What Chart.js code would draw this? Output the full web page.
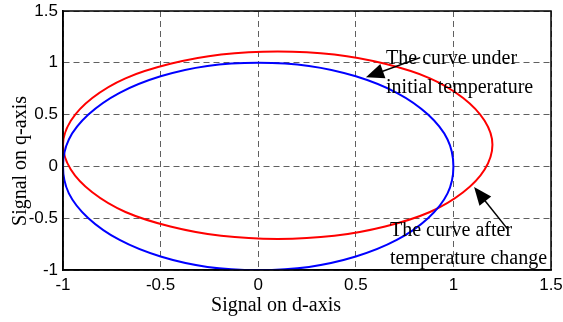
<!DOCTYPE html>
<html>
<head>
<meta charset="utf-8">
<script src="https://cdn.jsdelivr.net/npm/chart.js@4.4.1/dist/chart.umd.min.js"></script>
<style>
  html, body { margin:0; padding:0; background:#fff; }
  #wrap { width:563px; height:322px; position:relative; }
</style>
</head>
<body>
<div id="wrap"><canvas id="c" width="563" height="322"></canvas></div>
<script>
// curve under initial temperature (blue); closed loop
const blueX = [1.00, 0.97, 0.87, 0.71, 0.50, 0.26, 0.00, -0.26, -0.50, -0.71, -0.87, -0.97, -1.00, -0.97, -0.87, -0.71, -0.50, -0.26, 0.00, 0.26, 0.50, 0.71, 0.87, 0.97];
const blueY = [0.00, 0.26, 0.50, 0.71, 0.87, 0.97, 1.00, 0.97, 0.87, 0.71, 0.50, 0.26, 0.00, -0.26, -0.50, -0.71, -0.87, -0.97, -1.00, -0.97, -0.87, -0.71, -0.50, -0.26];
// curve after temperature change (red); closed loop
const redX = [1.20, 1.16, 1.05, 0.88, 0.65, 0.39, 0.10, -0.19, -0.45, -0.68, -0.85, -0.96, -1.00, -0.96, -0.85, -0.68, -0.45, -0.19, 0.10, 0.39, 0.65, 0.88, 1.05, 1.16];
const redY = [0.21, 0.44, 0.66, 0.85, 0.99, 1.08, 1.11, 1.08, 0.99, 0.85, 0.66, 0.44, 0.21, -0.03, -0.25, -0.44, -0.58, -0.67, -0.70, -0.67, -0.58, -0.44, -0.25, -0.03];
const xTicks = [-1, -0.5, 0, 0.5, 1, 1.5];
const yTicks = [-1, -0.5, 0, 0.5, 1, 1.5];
const xTitle = 'Signal on d-axis';
const yTitle = 'Signal on q-axis';
const notes = [
  { lines:['The curve under', 'initial temperature'], x:0.655, y:[1.04, 0.76], from:[0.83, 1.05], to:[0.552, 0.86] },
  { lines:['The curve after', 'temperature change'], x:0.675, y:[-0.625, -0.89], from:[1.28, -0.61], to:[1.106, -0.20] }
];

const pts = (xs, ys) => xs.map((x, i) => ({ x, y: ys[i] }));
const serif = '"Liberation Serif", "Times New Roman", serif';

// make the scatter lines closed, smooth loops (like the radar controller does)
const loopPlugin = {
  id: 'loop',
  afterDatasetsUpdate(chart) {
    chart.getSortedVisibleDatasetMetas().forEach(m => {
      if (m.dataset) { m.dataset._loop = true; m.dataset._fullLoop = true; m.dataset._pointsUpdated = false; m.dataset._path = undefined; }
    });
  }
};

const notePlugin = {
  id: 'notes',
  afterDatasetsDraw(chart) {
    const { ctx, scales: { x, y } } = chart;
    const a = chart.chartArea;
    ctx.save();
    ctx.fillStyle = '#000';
    ctx.strokeStyle = '#000';
    // frame
    ctx.lineWidth = 1.5;
    ctx.strokeRect(a.left, a.top, a.right - a.left, a.bottom - a.top);
    ctx.font = '20px ' + serif;
    ctx.textBaseline = 'middle';
    notes.forEach(n => {
      n.lines.forEach((t, i) => ctx.fillText(t, x.getPixelForValue(n.x), y.getPixelForValue(n.y[i])));
      const x0 = x.getPixelForValue(n.from[0]), y0 = y.getPixelForValue(n.from[1]);
      const x1 = x.getPixelForValue(n.to[0]), y1 = y.getPixelForValue(n.to[1]);
      const ang = Math.atan2(y1 - y0, x1 - x0), c = Math.cos(ang), s = Math.sin(ang);
      ctx.lineWidth = 1.5;
      ctx.beginPath(); ctx.moveTo(x0, y0); ctx.lineTo(x1 - 12 * c, y1 - 12 * s); ctx.stroke();
      ctx.beginPath();
      ctx.moveTo(x1, y1);
      ctx.lineTo(x1 - 18 * c + 7.5 * s, y1 - 18 * s - 7.5 * c);
      ctx.lineTo(x1 - 18 * c - 7.5 * s, y1 - 18 * s + 7.5 * c);
      ctx.closePath(); ctx.fill();
    });
    // axis titles
    ctx.textAlign = 'center';
    ctx.fillText(xTitle, 276, 306);
    ctx.translate(21, 161);
    ctx.rotate(-Math.PI / 2);
    ctx.fillText(yTitle, 0, 0);
    ctx.restore();
  }
};

const tickFont = { family: '"Liberation Sans", Arial, sans-serif', size: 17 };
const gridOpts = { color: '#606060', lineWidth: 1, drawTicks: false };
const borderOpts = { display: true, color: '#000', width: 1.5, dash: [6, 4] };

new Chart(document.getElementById('c'), {
  type: 'scatter',
  data: {
    datasets: [
      { data: pts(blueX, blueY), borderColor: '#0000ff', borderWidth: 2, showLine: true, pointRadius: 0, tension: 0.34 },
      { data: pts(redX, redY), borderColor: '#ff0000', borderWidth: 2, showLine: true, pointRadius: 0, tension: 0.34 }
    ]
  },
  options: {
    responsive: false,
    animation: false,
    layout: { padding: { top: 11, right: 12, left: 0, bottom: 0 } },
    plugins: { legend: { display: false }, tooltip: { enabled: false } },
    scales: {
      x: {
        type: 'linear', min: -1, max: 1.5,
        afterBuildTicks: s => { s.ticks = xTicks.map(v => ({ value: v })); },
        afterFit: s => { s.height = 52; s.paddingLeft = 0; s.paddingRight = 0; },
        grid: gridOpts,
        border: borderOpts,
        ticks: { font: tickFont, color: '#000', padding: 5, maxRotation: 0, callback: v => String(v) }
      },
      y: {
        type: 'linear', min: -1, max: 1.5,
        afterBuildTicks: s => { s.ticks = yTicks.map(v => ({ value: v })); },
        afterFit: s => { s.width = 63; s.paddingTop = 0; s.paddingBottom = 0; },
        grid: gridOpts,
        border: borderOpts,
        ticks: { font: tickFont, color: '#000', padding: 5, callback: v => String(v) }
      }
    }
  },
  plugins: [loopPlugin, notePlugin]
});
</script>
</body>
</html>
